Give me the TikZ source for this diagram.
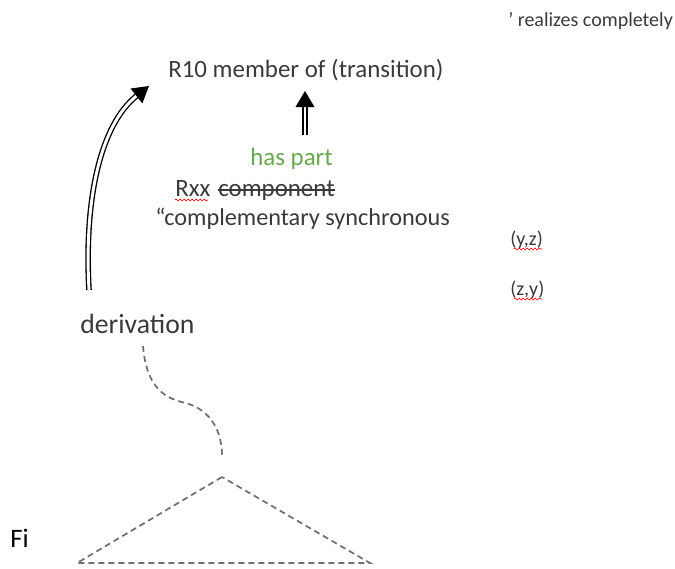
\documentclass[tikz,border=0pt]{standalone}
\usepackage{fontspec}
\setmainfont{Carlito}
\usetikzlibrary{arrows.meta,decorations.pathmorphing}
\definecolor{txt}{HTML}{3A3A3A}
\definecolor{hp}{HTML}{6AA84F}
\definecolor{dsh}{HTML}{707070}
\tikzset{
  lbl/.style={inner sep=0pt, text=txt, font=\fontsize{18.7}{22}\selectfont, anchor=base west},
  sml/.style={inner sep=0pt, text=txt, font=\fontsize{15}{18}\selectfont, anchor=base west},
  dline/.style={dash pattern=on 4.5pt off 3pt, line width=1.3pt, dsh},
  wavy/.style={red, line width=0.5pt, decorate, decoration={snake, amplitude=0.7pt, segment length=3pt}},
  dblarrow/.style={double, double distance=2.2pt, line width=1pt, -{Triangle[length=12pt,width=14pt]}}
}
\begin{document}
\begin{tikzpicture}[x=0.75pt,y=-0.75pt]
\useasboundingbox (0,0) rectangle (675,568);
\node[lbl] (r10) at (168,77) {R10 member of (transition)};
\node[lbl, text=hp] (hp) at (250,165) {has part};
\node[lbl] (rxx) at (175,196) {Rxx};
\node[lbl] (comp) at (218,196) {component};
\node[lbl, font=\fontsize{18.2}{22}\selectfont] (cs) at (155,225) {“complementary synchronous};
\node[lbl, font=\fontsize{20.8}{24}\selectfont] (der) at (80,333) {derivation};
\node[lbl, font=\fontsize{20}{24}\selectfont, text=black] (fi) at (10,547) {Fi};
\node[sml] (real) at (508,26) {’ realizes completely};
\node[sml] (yz) at (510,245) {(y,z)};
\node[sml] (zy) at (510,295) {(z,y)};
% wavy underlines and strike
\draw[wavy] (rxx.base west)++(0,4) -- ++(33,0);
\draw[wavy] (yz.base west)++(4,4) -- ++(28,0);
\draw[wavy] (zy.base west)++(4,4) -- ++(28,0);
\draw[txt, line width=0.9pt] ([yshift=4.5pt]comp.base west) -- ([yshift=4.5pt]comp.base east);
% arrows
\coordinate (a1) at (305,135);
\coordinate (a2) at (305,91);
\draw[dblarrow] (a1) -- (a2);
\coordinate (b1) at (89,290);
\coordinate (b2) at (149,86);
\draw[dblarrow] (b1) .. controls (84,200) and (100,125) .. (b2);
% dashed curve
\coordinate (c1) at (143,346);
\coordinate (c2) at (222,456);
\draw[dline] (c1) .. controls (146,382) and (160,398) .. (186,403) .. controls (210,410) and (222,430) .. (c2);
% triangle
\coordinate (t1) at (222,477);
\coordinate (t2) at (77,563);
\coordinate (t3) at (370,563);
\draw[dline] (t1) -- (t2) -- (t3) -- cycle;
\end{tikzpicture}
\end{document}
